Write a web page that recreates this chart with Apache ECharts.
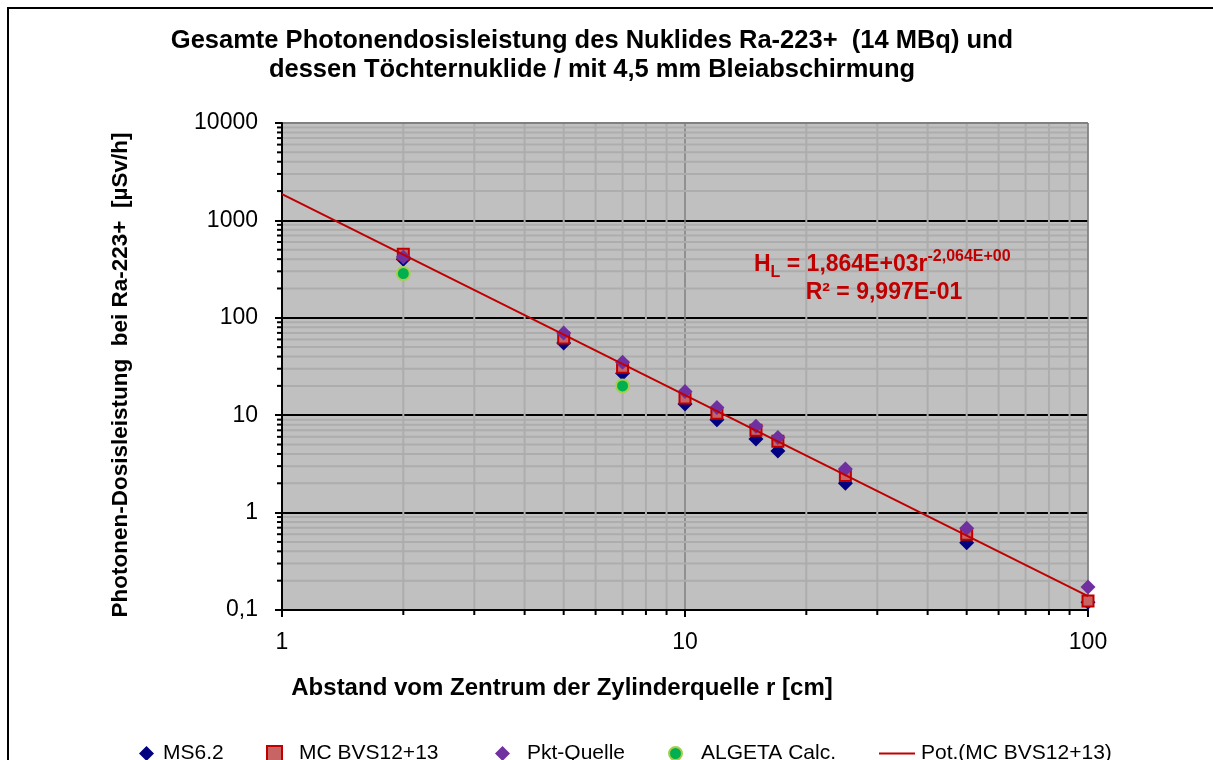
<!DOCTYPE html>
<html>
<head>
<meta charset="utf-8">
<script src="https://cdn.jsdelivr.net/npm/echarts@6/dist/echarts.min.js"></script>
<style>html,body{margin:0;padding:0;background:#fff}#c{width:1213px;height:760px}</style>
</head>
<body>
<div id="c"></div>
<script>
// ---- data ----
const distances = [2, 5, 7, 10, 12, 15, 17, 25, 50, 100];
const ms62 =      [400, 55, 27, 13, 9, 5.7, 4.3, 2.0, 0.49, 0.12];
const mcBVS =     [450, 62, 31, 15, 10.5, 7.0, 5.4, 2.4, 0.60, 0.124];
const pktQuelle = [420, 70, 35, 17.5, 12, 7.7, 5.9, 2.8, 0.69, 0.172];
const algetaDist = [2, 7];
const algeta =     [285, 20];
const trendX = [1, 100];
const trendY = [1864, 0.139];
const yTickLabels = ['0,1', '1', '10', '100', '1000', '10000'];
const xTickLabels = ['1', '10', '100'];

const pairs = (xs, ys) => xs.map((x, i) => [x, ys[i]]);
const FONT = 'Liberation Sans, Arial, sans-serif';

// minor grid positions (2..9 per decade)
const yDecades = [0.1, 1, 10, 100, 1000];
const xDecades = [1, 10];
const yMinor = [], xMinor = [];
yDecades.forEach(d => { for (let k = 2; k <= 9; k++) yMinor.push(+(d * k).toPrecision(3)); });
xDecades.forEach(d => { for (let k = 2; k <= 9; k++) xMinor.push(d * k); });

const chart = echarts.init(document.getElementById('c'), null, {renderer: 'canvas'});

const legendBase = {
  top: 743, padding: 0, itemWidth: 15, itemHeight: 15, itemGap: 10,
  textStyle: {fontFamily: FONT, fontSize: 21, color: '#000'}
};
const mkLegend = (name, left, pad, extra) => Object.assign({}, legendBase, {
  data: [name], left,
  textStyle: Object.assign({}, legendBase.textStyle, {padding: [0, 0, 0, pad]})
}, extra || {});

const option = {
  animation: false,
  backgroundColor: '#ffffff',
  title: {
    text: 'Gesamte Photonendosisleistung des Nuklides Ra-223+  (14 MBq) und\ndessen Töchternuklide / mit 4,5 mm Bleiabschirmung',
    left: 587, top: 21, textAlign: 'center',
    textStyle: {fontFamily: FONT, fontWeight: 'bold', fontSize: 25.5, lineHeight: 29, color: '#000'}
  },
  grid: {
    left: 282, top: 123, right: 125, bottom: 150,
    show: true, backgroundColor: '#c0c0c0', borderColor: '#808080', borderWidth: 1
  },
  xAxis: {
    type: 'log', logBase: 10, min: 1, max: 100,
    axisLine: {show: true, lineStyle: {color: '#000', width: 2}},
    axisTick: {show: true, length: 7, inside: false, lineStyle: {color: '#000', width: 2}},
    axisLabel: {
      fontFamily: FONT, fontSize: 23, color: '#000', margin: 21,
      formatter: v => xTickLabels[Math.round(Math.log10(v))]
    },
    splitLine: {show: true, lineStyle: {color: '#808080', width: 1.5}},
    minorTick: {show: false}, minorSplitLine: {show: false}
  },
  yAxis: {
    type: 'log', logBase: 10, min: 0.1, max: 10000,
    axisLine: {show: true, lineStyle: {color: '#000', width: 2}},
    axisTick: {show: true, length: 7, inside: false, lineStyle: {color: '#000', width: 2}},
    axisLabel: {
      fontFamily: FONT, fontSize: 23, color: '#000', margin: 24,
      formatter: v => yTickLabels[Math.round(Math.log10(v)) + 1]
    },
    splitLine: {show: true, lineStyle: {color: ['#000', '#000', '#000', '#000', '#000', '#808080'], width: 2}}
  },
  legend: [
    mkLegend('MS6.2', 139, 4),
    mkLegend('MC BVS12+13', 266, 12),
    mkLegend('Pkt-Quelle', 495, 12),
    mkLegend('ALGETA Calc.', 668, 12, {itemWidth: 13, itemHeight: 13,
      textStyle: Object.assign({}, legendBase.textStyle, {padding: [0, 0, 0, 14]})}),
    mkLegend('Pot.(MC BVS12+13)', 879, 1, {itemWidth: 36, itemHeight: 2,
      data: [{name: 'Pot.(MC BVS12+13)', icon: 'rect', itemStyle: {color: '#c00000'}}]})
  ],
  graphic: [
    {type: 'rect', shape: {x: 8, y: 8, width: 1240, height: 800},
     style: {fill: 'none', stroke: '#000', lineWidth: 2}, z: 100, silent: true},
    {type: 'text', x: 121, y: 375, rotation: Math.PI / 2,
     style: {text: 'Photonen-Dosisleistung  bei Ra-223+  [µSv/h]', fontFamily: FONT, fontWeight: 'bold',
             fontSize: 22.5, fill: '#000', align: 'center', verticalAlign: 'middle'}},
    {type: 'text', x: 562, y: 688,
     style: {text: 'Abstand vom Zentrum der Zylinderquelle r [cm]', fontFamily: FONT, fontWeight: 'bold',
             fontSize: 24, fill: '#000', align: 'center', verticalAlign: 'middle'}},
    {type: 'text', x: 754, y: 265, z: 50,
     style: {
       text: '{m|H}{s|L}{m| = 1,864E+03r}{p|-2,064E+00}',
       fill: '#c00000', verticalAlign: 'middle',
       rich: {
         m: {fontFamily: FONT, fontWeight: 'bold', fontSize: 23, fill: '#c00000'},
         s: {fontFamily: FONT, fontWeight: 'bold', fontSize: 16, fill: '#c00000', padding: [16, 0, 0, 0]},
         p: {fontFamily: FONT, fontWeight: 'bold', fontSize: 16, fill: '#c00000', padding: [0, 0, 16, 0]}
       }
     }},
    {type: 'text', x: 884, y: 293, z: 50,
     style: {text: 'R² = 9,997E-01', fontFamily: FONT, fontWeight: 'bold', fontSize: 23,
             fill: '#c00000', align: 'center', verticalAlign: 'middle'}}
  ],
  series: [
    {
      type: 'custom', name: 'minor', z: 1, silent: true, clip: false,
      data: [[1, 1]],
      renderItem: (params, api) => {
        const children = [];
        const lineGray = {stroke: '#adadad', lineWidth: 2};
        const tick = {stroke: '#000', lineWidth: 2};
        const x0 = api.coord([1, 1])[0];
        const y0 = api.coord([1, 0.1])[1];
        yMinor.forEach(v => {
          const a = api.coord([1, v]), b = api.coord([100, v]);
          children.push({type: 'line', shape: {x1: a[0] + 1, y1: a[1], x2: b[0] - 1, y2: b[1]}, style: lineGray});
          children.push({type: 'line', shape: {x1: x0 - 5, y1: a[1], x2: x0, y2: a[1]}, style: tick});
        });
        xMinor.forEach(v => {
          const a = api.coord([v, 0.1]), b = api.coord([v, 10000]);
          children.push({type: 'line', shape: {x1: a[0], y1: a[1] - 1, x2: b[0], y2: b[1] + 1}, style: lineGray});
          children.push({type: 'line', shape: {x1: a[0], y1: y0, x2: a[0], y2: y0 + 5}, style: tick});
        });
        return {type: 'group', children};
      }
    },
    {
      name: 'MS6.2', type: 'scatter', z: 3, data: pairs(distances, ms62),
      symbol: 'diamond', symbolSize: 15,
      itemStyle: {color: '#000080', opacity: 1}
    },
    {
      name: 'MC BVS12+13', type: 'scatter', z: 3, data: pairs(distances, mcBVS),
      symbol: 'rect', symbolSize: 11,
      itemStyle: {color: '#c86464', borderColor: '#c00000', borderWidth: 2, opacity: 1}
    },
    {
      name: 'Pkt-Quelle', type: 'scatter', z: 3, data: pairs(distances, pktQuelle),
      symbol: 'diamond', symbolSize: 15,
      itemStyle: {color: '#7030a0', opacity: 1}
    },
    {
      name: 'ALGETA Calc.', type: 'scatter', z: 3, data: pairs(algetaDist, algeta),
      symbol: 'circle', symbolSize: 13,
      itemStyle: {color: '#00b050', borderColor: '#a6cf4f', borderWidth: 2, opacity: 1}
    },
    {
      name: 'Pot.(MC BVS12+13)', type: 'line', z: 4, data: pairs(trendX, trendY),
      showSymbol: false, symbol: 'none',
      lineStyle: {color: '#c00000', width: 2},
      itemStyle: {color: '#c00000'}
    }
  ]
};
chart.setOption(option);
</script>
</body>
</html>
